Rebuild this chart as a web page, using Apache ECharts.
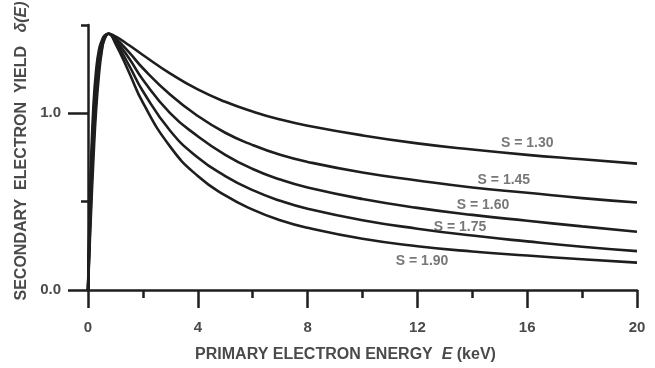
<!DOCTYPE html>
<html><head><meta charset="utf-8">
<script src="https://cdn.jsdelivr.net/npm/echarts@6/dist/echarts.min.js"></script>
<style>html,body{margin:0;padding:0;background:#fff}#c{width:655px;height:368px}</style>
</head><body><div id="c"></div>
<script>
const energies = [0,0.05,0.1,0.2,0.3,0.4,0.5,0.6,0.75,1,1.5,2,3,4,5,6,7,8,10,12,14,16,18,20];
const yieldS130 = [0,0.38,0.67,1.05,1.25,1.36,1.41,1.44,1.45,1.435,1.385,1.33,1.225,1.135,1.065,1.01,0.965,0.93,0.875,0.83,0.795,0.765,0.74,0.715];
const yieldS145 = [0,0.33,0.60,0.98,1.20,1.33,1.40,1.43,1.45,1.425,1.345,1.255,1.105,0.985,0.89,0.82,0.765,0.725,0.665,0.62,0.58,0.55,0.52,0.495];
const yieldS160 = [0,0.28,0.52,0.90,1.14,1.30,1.38,1.43,1.45,1.415,1.31,1.19,1.00,0.87,0.765,0.685,0.625,0.58,0.515,0.465,0.425,0.392,0.36,0.33];
const yieldS175 = [0,0.24,0.46,0.83,1.08,1.26,1.36,1.42,1.45,1.405,1.27,1.125,0.90,0.75,0.645,0.565,0.505,0.46,0.395,0.347,0.308,0.275,0.245,0.22];
const yieldS190 = [0,0.21,0.40,0.75,1.03,1.22,1.35,1.42,1.45,1.395,1.23,1.06,0.81,0.645,0.535,0.455,0.395,0.352,0.29,0.248,0.218,0.195,0.174,0.155];
const seriesNames = ['S = 1.30','S = 1.45','S = 1.60','S = 1.75','S = 1.90'];
const labelE = [16.0,15.15,14.39,13.55,12.17];
const labelY = [0.83,0.621,0.478,0.357,0.165];
const xMajorTicks = [0,4,8,12,16,20];
const yMajorTicks = [0,1];
const yMinorTicks = [0.5,1.5];

const allSeries = [yieldS130,yieldS145,yieldS160,yieldS175,yieldS190];
const ink = '#1e1e1e';
const textCol = '#4a4a4a';
const fontFam = '"Liberation Sans", Arial, sans-serif';

const lineSeries = allSeries.map((vals, i) => ({
  type: 'line',
  name: seriesNames[i],
  data: energies.map((e, j) => [e, vals[j]]),
  smooth: 0.5,
  showSymbol: false,
  symbol: 'none',
  lineStyle: { color: ink, width: 2.6 },
  xAxisIndex: 0, yAxisIndex: 0,
  z: 3
}));

const labelSeries = {
  type: 'scatter',
  symbolSize: 0,
  data: labelE.map((e, i) => ({ value: [e, labelY[i]], name: seriesNames[i] })),
  label: {
    show: true, position: 'inside', formatter: p => p.name,
    color: '#555', fontSize: 14, fontWeight: 'bold', fontFamily: fontFam
  },
  silent: true,
  z: 5
};

const chart = echarts.init(document.getElementById('c'), null, { renderer: 'canvas' });
chart.setOption({
  backgroundColor: '#fff',
  animation: false,
  grid: { left: 88, right: 18, top: 20, bottom: 75, containLabel: false },
  xAxis: [{
    type: 'value', min: 0, max: 20, interval: 4, position: 'bottom',
    axisLine: { show: true, onZero: false, lineStyle: { color: ink, width: 2.5 } },
    axisTick: { show: true, length: 18, lineStyle: { color: ink, width: 2.5 } },
    minorTick: { show: true, splitNumber: 2, length: 8, lineStyle: { color: ink, width: 2.5 } },
    axisLabel: { customValues: xMajorTicks, margin: 30, color: textCol, fontSize: 15, fontWeight: 'bold', fontFamily: fontFam },
    splitLine: { show: false }, minorSplitLine: { show: false },
    name: '{a|PRIMARY ELECTRON ENERGY  }{i|E}{a| (keV)}',
    nameLocation: 'middle', nameGap: 57,
    nameTextStyle: {
      padding: [0, 34, 0, 0],
      rich: {
        a: { color: textCol, fontSize: 16, fontWeight: 'bold', fontFamily: fontFam },
        i: { color: textCol, fontSize: 16, fontWeight: 'bold', fontStyle: 'italic', fontFamily: fontFam }
      }
    }
  }],
  yAxis: [{
    type: 'value', min: 0, max: 1.5, position: 'left',
    axisLine: { show: true, onZero: false, lineStyle: { color: ink, width: 2.5 } },
    axisTick: { show: true, customValues: yMajorTicks, length: 20, lineStyle: { color: ink, width: 2.5 } },
    axisLabel: { customValues: yMajorTicks, formatter: v => v.toFixed(1), margin: 27, color: textCol, fontSize: 15, fontWeight: 'bold', fontFamily: fontFam },
    splitLine: { show: false },
    name: '{a|SECONDARY  ELECTRON  YIELD   }{i|δ(E)}',
    nameLocation: 'middle', nameGap: 57, nameRotate: 90,
    nameTextStyle: {
      padding: [0, 0, 0, 13],
      rich: {
        a: { color: textCol, fontSize: 16, fontWeight: 'bold', fontFamily: fontFam },
        i: { color: textCol, fontSize: 16, fontWeight: 'bold', fontStyle: 'italic', fontFamily: fontFam }
      }
    }
  }, {
    type: 'value', min: 0, max: 1.5, position: 'left',
    axisLine: { show: false },
    axisTick: { show: true, customValues: yMinorTicks, length: 7, lineStyle: { color: ink, width: 2.5 } },
    axisLabel: { show: false },
    splitLine: { show: false }
  }],
  series: [...lineSeries, labelSeries]
});
</script>
</body></html>
